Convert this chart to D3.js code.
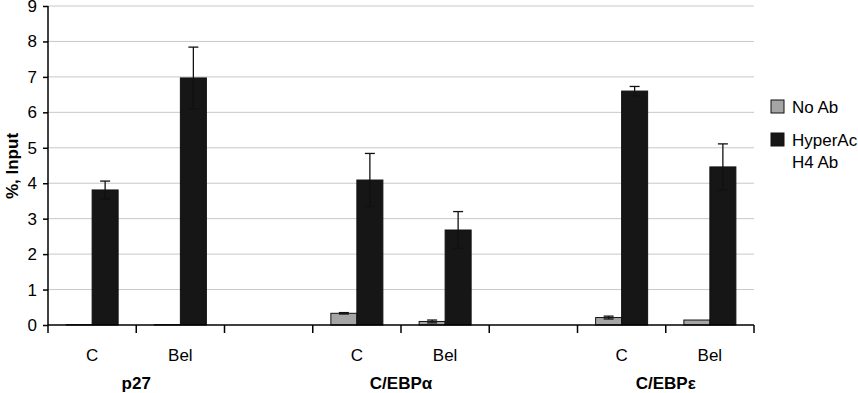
<!DOCTYPE html>
<html>
<head>
<meta charset="utf-8">
<script src="https://cdn.jsdelivr.net/npm/d3@7"></script>
<style>
body { margin: 0; background: #fff; }
text { font-family: "Liberation Sans", Arial, sans-serif; }
</style>
</head>
<body>
<svg width="858" height="393"></svg>
<script>
var svg = d3.select("svg");

// slots along the x axis (blank slots separate the gene groups)
var slots = ["p27|C", "p27|Bel", "gap1", "a|C", "a|Bel", "gap2", "e|C", "e|Bel"];
var slotLabels = ["C", "Bel", "", "C", "Bel", "", "C", "Bel"];
var groups = ["p27", "C/EBPα", "C/EBPε"];
var groupCenters = [1, 4, 7]; // slot boundaries under each group label
var series = ["No Ab", "HyperAc H4 Ab"];
var barSlots = ["p27|C", "p27|Bel", "a|C", "a|Bel", "e|C", "e|Bel"];
var noAb = [0.01, 0.01, 0.33, 0.10, 0.21, 0.14];
var noAbErr = [0, 0, 0.02, 0.04, 0.04, 0];
var h4 = [3.81, 6.97, 4.09, 2.68, 6.60, 4.46];
var h4Err = [0.25, 0.87, 0.75, 0.52, 0.13, 0.65];
var yTicks = [0, 1, 2, 3, 4, 5, 6, 7, 8, 9];
var colors = ["#a5a5a5", "#161616"];

var mLeft = 48, mRight = 754, mTop = 6, mBottom = 325;

var x = d3.scaleBand().domain(slots).range([mLeft, mRight]);
var y = d3.scaleLinear().domain([0, 9]).range([mBottom, mTop]);
var inner = d3.scaleBand().domain(series).range([0, 52]);
var off = (x.bandwidth() - 52) / 2;

// gridlines
svg.append("g")
 .selectAll("line")
 .data(yTicks.slice(1))
 .enter().append("line")
 .attr("x1", mLeft).attr("x2", mRight)
 .attr("y1", function(d) { return y(d); })
 .attr("y2", function(d) { return y(d); })
 .attr("stroke", "#c8c8c8")
 .attr("stroke-width", 1);

// bars
var data = [];
barSlots.forEach(function(s, i) {
  data.push({slot: s, ser: series[0], v: noAb[i], e: noAbErr[i], c: colors[0]});
  data.push({slot: s, ser: series[1], v: h4[i], e: h4Err[i], c: colors[1]});
});

svg.append("g")
 .selectAll("rect")
 .data(data)
 .enter().append("rect")
 .attr("x", function(d) { return x(d.slot) + off + inner(d.ser); })
 .attr("y", function(d) { return y(d.v); })
 .attr("width", inner.bandwidth())
 .attr("height", function(d) { return mBottom - y(d.v); })
 .attr("fill", function(d) { return d.c; })
 .attr("stroke", "#111")
 .attr("stroke-width", 1);

// error bars
var eb = svg.append("g").attr("stroke", "#111").attr("stroke-width", 1.3);
data.filter(function(d) { return d.e > 0; }).forEach(function(d) {
  var cx = x(d.slot) + off + inner(d.ser) + inner.bandwidth() / 2;
  eb.append("line").attr("x1", cx).attr("x2", cx)
    .attr("y1", y(d.v + d.e)).attr("y2", y(d.v - d.e));
  [d.v + d.e, d.v - d.e].forEach(function(v) {
    eb.append("line").attr("x1", cx - 5).attr("x2", cx + 5)
      .attr("y1", y(v)).attr("y2", y(v));
  });
});

// y axis
svg.append("g")
 .attr("transform", "translate(" + mLeft + ",0)")
 .call(d3.axisLeft(y).tickValues(yTicks).tickSize(5).tickPadding(6))
 .call(function(g) {
   g.select(".domain").attr("d", "M0," + mTop + "V" + (mBottom + 8)).attr("stroke-width", 1.5);
   g.selectAll(".tick line").attr("stroke-width", 1.5);
   g.selectAll("text").attr("font-size", "17px").attr("fill", "#000")
    .attr("font-family", "Liberation Sans, Arial, sans-serif");
 });

// x axis line and ticks at slot boundaries
svg.append("line")
 .attr("x1", mLeft).attr("x2", mRight)
 .attr("y1", mBottom).attr("y2", mBottom)
 .attr("stroke", "#000").attr("stroke-width", 1.5);
var bounds = slots.map(function(s) { return x(s); }).concat([mRight]);
svg.append("g")
 .selectAll("line")
 .data(bounds.slice(1))
 .enter().append("line")
 .attr("x1", function(d) { return d; }).attr("x2", function(d) { return d; })
 .attr("y1", mBottom).attr("y2", mBottom + 8)
 .attr("stroke", "#000").attr("stroke-width", 1.5);

// category labels
svg.append("g")
 .selectAll("text")
 .data(slots)
 .enter().append("text")
 .attr("x", function(d) { return x(d) + x.bandwidth() / 2; })
 .attr("y", 361)
 .attr("text-anchor", "middle")
 .attr("font-size", "17px")
 .text(function(d, i) { return slotLabels[i]; });

// group labels
svg.append("g")
 .selectAll("text")
 .data(groups)
 .enter().append("text")
 .attr("x", function(d, i) { return bounds[groupCenters[i]]; })
 .attr("y", 389)
 .attr("text-anchor", "middle")
 .attr("font-size", "17px")
 .attr("font-weight", "bold")
 .text(function(d) { return d; });

// y axis title
svg.append("text")
 .attr("transform", "translate(18,166) rotate(-90)")
 .attr("text-anchor", "middle")
 .attr("font-size", "17px")
 .attr("font-weight", "bold")
 .text("%, Input");

// legend
var lg = svg.append("g");
lg.append("rect").attr("x", 771).attr("y", 100).attr("width", 13).attr("height", 13)
 .attr("fill", colors[0]).attr("stroke", "#111");
lg.append("text").attr("x", 792).attr("y", 113).attr("font-size", "17px").text("No Ab");
lg.append("rect").attr("x", 771).attr("y", 133).attr("width", 13).attr("height", 13)
 .attr("fill", colors[1]).attr("stroke", "#111");
lg.append("text").attr("x", 792).attr("y", 146).attr("font-size", "17px").text("HyperAc");
lg.append("text").attr("x", 792).attr("y", 168).attr("font-size", "17px").text("H4 Ab");
</script>
</body>
</html>
